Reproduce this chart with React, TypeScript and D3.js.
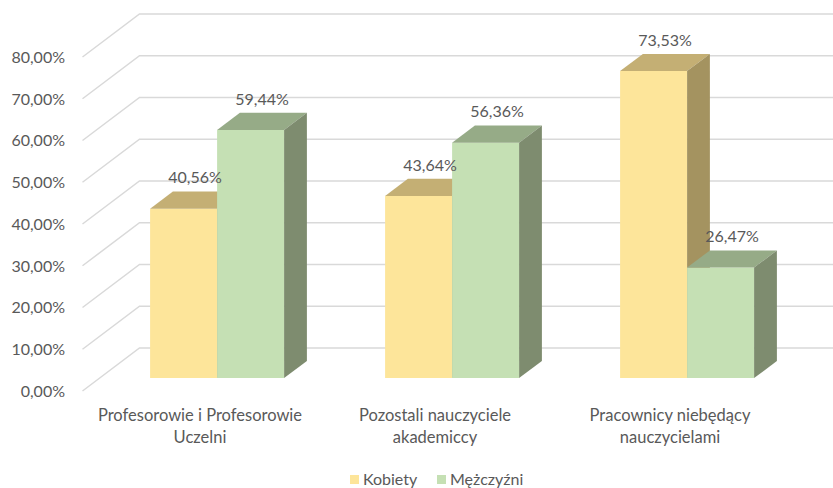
import React from 'react';
import * as d3 from 'd3';

const categories = ['Profesorowie i Profesorowie Uczelni', 'Pozostali nauczyciele akademiccy', 'Pracownicy niebędący nauczycielami'];
const categoryLines = [
  ['Profesorowie i Profesorowie', 'Uczelni'],
  ['Pozostali nauczyciele', 'akademiccy'],
  ['Pracownicy niebędący', 'nauczycielami'],
];
const seriesNames = ['Kobiety', 'Mężczyźni'];
const kobiety = [0.4056, 0.4364, 0.7353];
const mezczyzni = [0.5944, 0.5636, 0.2647];
const yTicks = [0, 0.1, 0.2, 0.3, 0.4, 0.5, 0.6, 0.7, 0.8];

// front / top / side shades per series
const palette = [
  { front: '#FDE59A', top: '#C4AF74', side: '#A49360' },
  { front: '#C5E0B4', top: '#96AB87', side: '#7E8C6F' },
];

const plLocale = d3.formatLocale({ decimal: ',', thousands: ' ', grouping: [3], currency: ['', ' zł'] });
const pct = plLocale.format('.2%');

const FONT = 'Lato, "Open Sans", sans-serif';
const TEXT = '#595959';

export default function App() {
  const W = 833;
  const H = 488;
  const depthX = 57;
  const depthY = 43;
  const d0 = 0.3;
  const d1 = 0.7;

  const x = d3.scaleBand<string>().domain(categories).range([82.5, 787.5]);
  const inner = d3.scaleBand<string>().domain(seriesNames).range([50.5, 184.5]);
  const y = d3.scaleLinear().domain([0, 0.8]).range([391, 57]);

  const proj = (px: number, v: number, d: number) => [px + d * depthX, y(v) - d * depthY];
  const pts = (arr: number[][]) => arr.map(p => p.join(',')).join(' ');

  const series = [kobiety, mezczyzni];

  return (
    <svg width={W} height={H} style={{ position: 'absolute', left: 0, top: 0, background: '#fff' }} fontFamily={FONT}>
      {/* gridlines: side wall diagonals + back wall */}
      <g stroke="#D9D9D9" strokeWidth={1.5} fill="none">
        {yTicks.map(t => {
          const a = proj(82.5, t, 0);
          const b = proj(82.5, t, 1);
          return <polyline key={t} points={pts([a, b, [W + 5, b[1]]])} />;
        })}
      </g>

      {/* y axis labels */}
      <g fill={TEXT} fontSize={16} textAnchor="end">
        {yTicks.map(t => (
          <text key={t} x={65} y={y(t)} dy="0.36em">{pct(t)}</text>
        ))}
      </g>

      {/* bars */}
      {categories.map((c, ci) => (
        <g key={c}>
          {seriesNames.map((s, si) => {
            const v = series[si][ci];
            const x0 = x(c)! + inner(s)!;
            const x1 = x0 + inner.bandwidth();
            const col = palette[si];
            return (
              <g key={s}>
                <polygon points={pts([proj(x0, 0, d0), proj(x1, 0, d0), proj(x1, v, d0), proj(x0, v, d0)])} fill={col.front} />
                <polygon points={pts([proj(x0, v, d0), proj(x1, v, d0), proj(x1, v, d1), proj(x0, v, d1)])} fill={col.top} />
                <polygon points={pts([proj(x1, 0, d0), proj(x1, 0, d1), proj(x1, v, d1), proj(x1, v, d0)])} fill={col.side} />
              </g>
            );
          })}
        </g>
      ))}

      {/* data labels */}
      <g fill={TEXT} fontSize={16} textAnchor="middle">
        {categories.map((c, ci) =>
          seriesNames.map((s, si) => {
            const v = series[si][ci];
            const x0 = x(c)! + inner(s)!;
            const p = proj(x0 + inner.bandwidth() / 2, v, (d0 + d1) / 2);
            return (
              <text key={c + s} x={p[0]} y={p[1] - 8.5 - 14} dy="0.36em">{pct(v)}</text>
            );
          })
        )}
      </g>

      {/* category labels */}
      <g fill={TEXT} fontSize={16.5} textAnchor="middle">
        {categories.map((c, ci) => (
          <text key={c} x={x(c)! + x.bandwidth() / 2} y={415}>
            {categoryLines[ci].map((line, li) => (
              <tspan key={li} x={x(c)! + x.bandwidth() / 2} dy={li === 0 ? '0.36em' : 22}>{line}</tspan>
            ))}
          </text>
        ))}
      </g>

      {/* legend */}
      <g fill={TEXT} fontSize={16}>
        {seriesNames.map((s, si) => {
          const lx = si === 0 ? 350 : 437;
          return (
            <g key={s} transform={`translate(${lx},475)`}>
              <rect width={9} height={9} fill={palette[si].front} />
              <text x={13} y={4.5} dy="0.36em">{s}</text>
            </g>
          );
        })}
      </g>
    </svg>
  );
}
